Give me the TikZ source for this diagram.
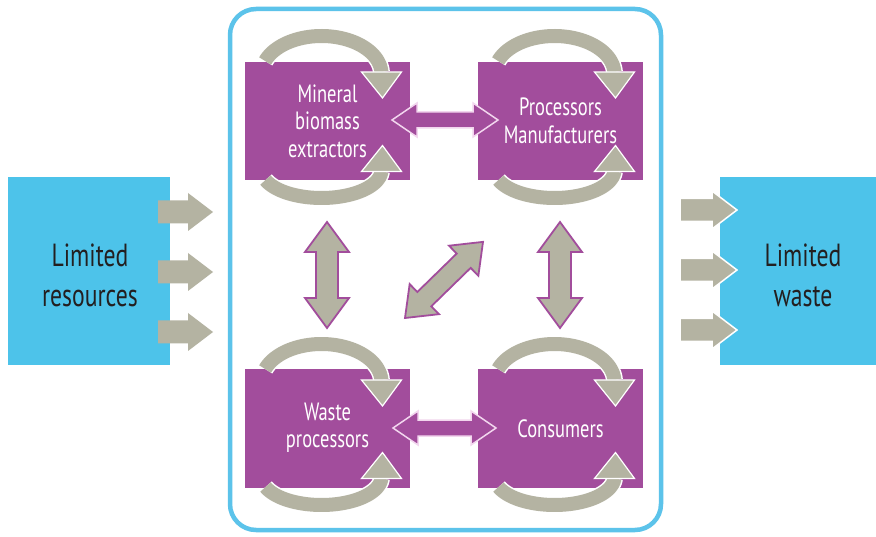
\documentclass[tikz,border=0pt]{standalone}
\usepackage{fontspec}
\setmainfont{PT Sans}[FakeStretch=0.74]
\definecolor{pur}{HTML}{A24D9C}
\definecolor{gry}{HTML}{B4B3A2}
\definecolor{sky}{HTML}{4DC3EA}
\definecolor{framec}{HTML}{5CC3EA}
\definecolor{ink}{HTML}{231F20}
\definecolor{pinkline}{HTML}{F2D6EE}
% double arrow: style, x, y, angle, length, shaft half, head half, head length
\newcommand{\dblarrow}[8]{%
  \begin{scope}[shift={(#2,#3)},rotate=#4]
    \draw[#1] (0,0) -- (#8,#7) -- (#8,#6) -- ({#5-#8},#6) -- ({#5-#8},#7) -- (#5,0)
      -- ({#5-#8},{-#7}) -- ({#5-#8},{-#6}) -- (#8,{-#6}) -- (#8,{-#7}) -- cycle;
  \end{scope}}
% single arrow: style, x1, x2, y
\newcommand{\sglarrow}[4]{%
  \draw[#1] (#2,{#4-11.5}) -- ({#3-25},{#4-11.5}) -- ({#3-25},{#4-19}) -- (#3,#4)
    -- ({#3-25},{#4+19}) -- ({#3-25},{#4+11.5}) -- (#2,{#4+11.5}) -- cycle;}
% cycle arrows around a box: cx, top, bottom
\newcommand{\cycarrows}[3]{%
  \draw[bandw] plot[domain=200:357,samples=50,variable=\t] ({#1-6+60*cos(\t)},{#2+12+38*sin(\t)});
  \draw[band] plot[domain=200:357,samples=50,variable=\t] ({#1-6+60*cos(\t)},{#2+12+38*sin(\t)});
  \draw[headst] ({#1+34},{#2+10}) -- ({#1+74},{#2+10}) -- ({#1+55},{#2+36}) -- cycle;
  \draw[bandw] plot[domain=159:3,samples=50,variable=\t] ({#1-6+60*cos(\t)},{#3-10+28*sin(\t)});
  \draw[band] plot[domain=159:3,samples=50,variable=\t] ({#1-6+60*cos(\t)},{#3-10+28*sin(\t)});
  \draw[headst] ({#1+34},{#3-8.5}) -- ({#1+74},{#3-8.5}) -- ({#1+55},{#3-34.5}) -- cycle;}
\begin{document}
\begin{tikzpicture}[x=1pt,y=-1pt,
  pbox/.style={fill=pur,text=white,minimum width=165pt,minimum height=118pt,inner sep=0pt,align=center,
    font=\fontsize{25}{27.5}\selectfont},
  btext/.style={text=ink,inner sep=0pt,align=center,font=\fontsize{32}{40}\selectfont},
  band/.style={draw=gry,line width=14pt},
  bandw/.style={draw=white,line width=17pt},
  headst/.style={fill=gry,draw=white,line width=1.2pt,line join=miter},
  garrow/.style={fill=gry,draw=none},
  garroww/.style={fill=gry,draw=white,line width=1.5pt},
  parrow/.style={fill=pur,draw=pinkline,line width=1.5pt},
  vgarrow/.style={fill=gry,draw=pur,line width=1.8pt,line join=miter}]
\useasboundingbox (0,0) rectangle (876,537);
\fill[white] (0,0) rectangle (876,537);
% container
\draw[framec,line width=4.5pt,rounded corners=26pt] (230,9) rectangle (661,530);
% outer boxes
\fill[sky] (8,177) rectangle (170,365);
\node[btext] (res) at (90,275) {Limited\\resources};
\fill[sky] (720,177) rectangle (876,365);
\node[btext] (wst) at (803,275) {Limited\\waste};
% input / output arrows
\sglarrow{garrow}{158}{213}{212}
\sglarrow{garrow}{158}{213}{272}
\sglarrow{garrow}{158}{213}{332}
\sglarrow{garroww}{680}{737}{210}
\sglarrow{garroww}{680}{737}{270}
\sglarrow{garroww}{680}{737}{330}
% purple boxes
\node[pbox] (mbe) at (327.5,121) {Mineral\\biomass\\extractors};
\node[pbox] (pm) at (560.5,121) {Processors\\Manufacturers};
\node[pbox] (wp) at (327.5,428.5) {\raisebox{-4pt}{\begin{tabular}{@{}c@{}}Waste\\processors\end{tabular}}};
\node[pbox] (con) at (560.5,428.5) {\raisebox{-1pt}{Consumers}};
% cycle arrows
\cycarrows{327.5}{62}{180}
\cycarrows{560.5}{62}{180}
\cycarrows{327.5}{370}{487}
\cycarrows{560.5}{370}{487}
% horizontal purple double arrows
\dblarrow{parrow}{392}{120}{0}{106}{8}{17}{25}
\dblarrow{parrow}{393}{428}{0}{103}{8}{17}{25}
% vertical gray double arrows
\dblarrow{vgarrow}{327}{222}{-90}{106}{11}{22}{30}
\dblarrow{vgarrow}{560}{222}{-90}{106}{11}{22}{30}
% diagonal
\dblarrow{vgarrow}{405}{318}{44.3}{109}{10}{21}{27}
\end{tikzpicture}
\end{document}
